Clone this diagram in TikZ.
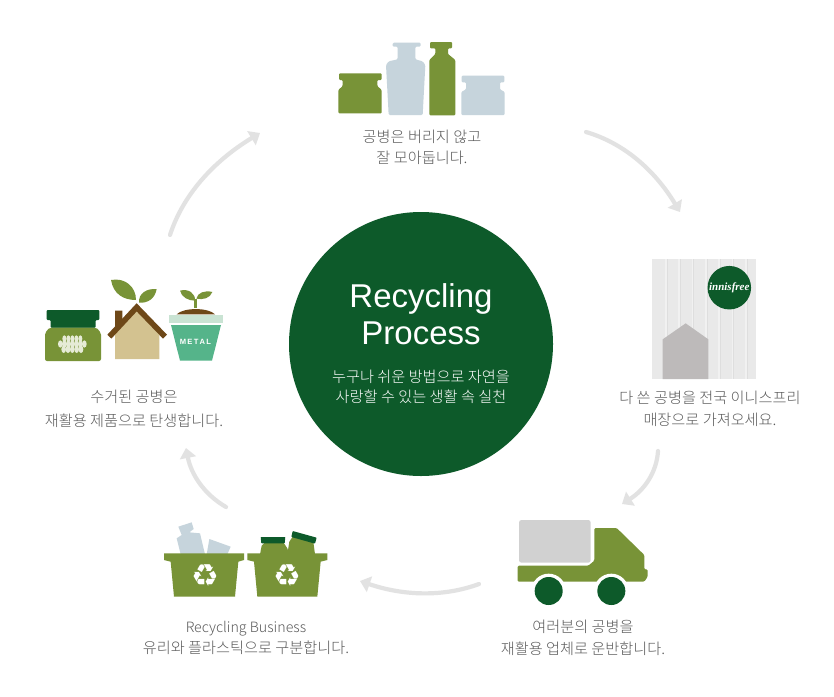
\documentclass[tikz,border=0pt]{standalone}
\usepackage{fontspec}
\usetikzlibrary{arrows.meta}
\setmainfont{Noto Sans CJK KR Light}
\newfontfamily\titlefont{Liberation Sans}
\newfontfamily\symfont{DejaVu Sans}
\newfontfamily\brandfont{Liberation Serif}
\definecolor{leaf}{HTML}{789337}
\definecolor{forest}{HTML}{0D5A2A}
\definecolor{bluegray}{HTML}{C6D4DC}
\definecolor{arrowgray}{HTML}{E2E2E2}
\definecolor{labelgray}{HTML}{5A5A5A}
\definecolor{brown1}{HTML}{6E4818}
\definecolor{sand}{HTML}{D3C290}
\definecolor{potrim}{HTML}{C9E3D3}
\definecolor{potbody}{HTML}{55B48A}
\definecolor{creamy}{HTML}{E6EBD6}
\definecolor{panelbase}{HTML}{E9E9E9}
\definecolor{panellight}{HTML}{F1F1F1}
\definecolor{paneldark}{HTML}{DEDEDE}
\definecolor{housegray}{HTML}{BDBABA}
\newcommand{\latinsize}{\fontsize{14.2}{21.5}\selectfont}
\tikzset{
  steplabel/.style={text=labelgray,align=center,inner sep=0pt,font=\fontsize{15.2}{21.5}\selectfont},
  flowarrow/.style={draw=arrowgray,line width=4.2pt,line cap=round,-{Triangle[length=10pt,width=16pt]}},
  zoomed/.style={x=0.33333pt,y=-0.33333pt},
}
\begin{document}
\begin{tikzpicture}[x=1pt,y=-1pt]
\useasboundingbox (0,0) rectangle (834,696);
\fill[white] (0,0) rectangle (834,696);

% centre
\node[circle,fill=forest,minimum size=264pt,inner sep=0pt] (hub) at (421,344) {};
\node[text=white,align=center,inner sep=0pt,font=\titlefont\fontsize{33}{37}\selectfont] (hubtitle) at (421,314) {Recycling\\Process};
\node[text=white,align=center,inner sep=0pt,font=\fontsize{15.2}{20.5}\selectfont] (hubtext) at (421,387) {누구나 쉬운 방법으로 자연을\\사랑할 수 있는 생활 속 실천};

% ---------- jars
\begin{scope}[shift={(320pt,-30pt)},zoomed]
\fill[leaf,rounded corners=1pt] (57,130)--(185,130)--(185,150)--(172,150)--(172,168)--(185,180)--(185,250)--(55,250)--(55,180)--(68,168)--(68,150)--(57,150)--cycle;
\fill[bluegray,rounded corners=1.2pt] (218,38)--(302,38)--(302,50)--(286,50)--(286,88)--(308,94)--(316,105)--(308,255)--(206,255)--(198,105)--(206,94)--(233,88)--(233,50)--(218,50)--cycle;
\fill[leaf,rounded corners=1pt] (330,36)--(396,36)--(396,55)--(384,55)--(384,72)--(406,90)--(406,256)--(328,256)--(328,90)--(346,72)--(346,55)--(330,55)--cycle;
\fill[bluegray,rounded corners=1pt] (425,137)--(553,137)--(553,157)--(540,157)--(540,178)--(554,186)--(554,255)--(424,255)--(424,186)--(438,178)--(438,157)--(425,157)--cycle;
\end{scope}
\node[steplabel] (label1) at (422,147.5) {공병은 버리지 않고\\잘 모아둡니다.};

% ---------- store panel
\begin{scope}[shift={(640pt,-250pt)},zoomed]
\fill[panelbase] (37,28) rectangle (348,387);
\foreach \sx in {75,115,155,195,235,275,315}{
  \fill[panellight] (\sx,28) rectangle (\sx+5,387);
  \fill[paneldark] (\sx+5,28) rectangle (\sx+7,387);
}
\fill[housegray] (68,268)--(137,220)--(205,268)--(205,387)--(68,387)--cycle;
\end{scope}
\node[circle,fill=forest,minimum size=43.5pt,inner sep=0pt,text=white,font=\brandfont\bfseries\itshape\fontsize{11}{11}\selectfont] (brand) at (729.3,287.7) {innisfree};
\node[steplabel] (label2) at (710,409) {다 쓴 공병을 전국 이니스프리\\매장으로 가져오세요.};

% ---------- truck
\begin{scope}[shift={(505pt,-510pt)},zoomed]
\fill[black!18,rounded corners=2.5pt] (42,30) rectangle (257,158);
\fill[leaf,rounded corners=1.2pt] (268,54)--(335,54)--(418,135)--(418,178)--(428,178)--(428,200)--(418,215)--(38,215)--(38,167)--(250,167)--(268,152)--cycle;
\fill[white] (131,243) circle (52);
\fill[white] (319,243) circle (52);
\fill[forest] (131,243) circle (42);
\fill[forest] (319,243) circle (42);
\end{scope}
\node[steplabel] (label3) at (583,638) {여러분의 공병을\\재활용 업체로 운반합니다.};

% ---------- recycling bins
\begin{scope}[shift={(150pt,-515pt)},zoomed]
\fill[bluegray] (85,35)--(125,22)--(131,42)--(118,52)--(150,55)--(165,118)--(92,118)--(80,70)--(95,60)--cycle;
\fill[bluegray] (178,72)--(242,95)--(232,118)--(170,118)--cycle;
\fill[leaf] (330,118)--(335,92)--(345,82)--(400,82)--(412,100)--(418,118)--cycle;
\fill[leaf] (412,118)--(418,80)--(430,62)--(490,80)--(495,118)--cycle;
\fill[forest,rounded corners=0.7pt] (332,66)--(406,66)--(404,85)--(334,85)--cycle;
\fill[forest,rounded corners=0.7pt] (428,48)--(500,68)--(495,86)--(424,66)--cycle;
\fill[leaf] (42,115)--(282,115)--(282,135)--(265,140)--(255,245)--(72,245)--(62,140)--(42,135)--cycle;
\fill[leaf] (292,115)--(532,115)--(532,135)--(512,140)--(502,245)--(322,245)--(312,140)--(292,135)--cycle;
\end{scope}
\node[text=white,inner sep=0pt,font=\symfont\fontsize{31}{31}\selectfont] (sym1) at (205,576) {♻};
\node[text=white,inner sep=0pt,font=\symfont\fontsize{31}{31}\selectfont] (sym2) at (287.5,576) {♻};
\node[steplabel] (label4) at (246,638) {{\latinsize Recycling Business}\\유리와 플라스틱으로 구분합니다.};

% ---------- products
\begin{scope}[shift={(30pt,-270pt)},zoomed]
\fill[leaf,rounded corners=2pt] (60,172)--(198,172)--(213,188)--(213,273)--(45,273)--(45,188)--cycle;
\fill[forest,rounded corners=1pt] (50,120)--(208,120)--(208,150)--(197,150)--(197,173)--(62,173)--(62,150)--(50,150)--cycle;
\foreach \dx in {-24,-12,0,12,24}{
  \fill[creamy] (127+\dx,206) ellipse (6 and 10);
}
\foreach \dx in {-36,-24,-12,0,12,24,36}{
  \fill[creamy] (127+\dx,222) ellipse (7 and 11);
}
\foreach \dx in {-26,-13,0,13,26}{
  \fill[creamy] (127+\dx,238) ellipse (7 and 11);
}
% house
\fill[sand] (255,175)--(320,118)--(388,175)--(388,267)--(255,267)--cycle;
\fill[brown1] (255,122)--(277,122)--(277,155)--(255,178)--cycle;
\draw[brown1,line width=5.6pt] (238,200)--(320,112)--(405,200);
% leaves
\fill[leaf] (243,30) .. controls (285,22) and (318,50) .. (318,90) .. controls (280,90) and (250,72) .. cycle;
\fill[leaf] (380,57) .. controls (350,55) and (325,70) .. (327,98) .. controls (355,100) and (375,85) .. cycle;
% pot
\fill[brown1] (440,133) .. controls (460,112) and (535,112) .. (555,133) -- cycle;
\fill[potrim] (418,135) rectangle (578,160);
\fill[potbody] (423,165)--(573,165)--(546,272)--(450,272)--cycle;
\draw[leaf,line width=2.8pt] (497,113)--(497,88);
\fill[leaf] (450,62) .. controls (475,55) and (497,70) .. (495,92) .. controls (475,92) and (455,82) .. cycle;
\fill[leaf] (547,66) .. controls (525,60) and (502,68) .. (499,86) .. controls (520,90) and (540,85) .. cycle;
\end{scope}
\node[text=white,inner sep=0pt,font=\titlefont\bfseries\fontsize{7.6}{8}\selectfont] (metal) at (195.5,342) {M\,E\,T\,A\,L};
\node[text=labelgray,align=center,inner sep=0pt,font=\fontsize{15.2}{24}\selectfont] (label5) at (134,409) {수거된 공병은\\재활용 제품으로 탄생합니다.};

% ---------- arrows
\coordinate (a1s) at (586,132); \coordinate (a1e) at (680,212);
\coordinate (a2s) at (658,451); \coordinate (a2e) at (622,504);
\coordinate (a3s) at (479,584); \coordinate (a3e) at (360,581);
\coordinate (a4s) at (226,507); \coordinate (a4e) at (186,448);
\coordinate (a5s) at (170,235); \coordinate (a5e) at (260,133);
\draw[flowarrow] (a1s) .. controls (622.7,142.7) and (654,169) .. (a1e);
\draw[flowarrow] (a2s) .. controls (656.7,472) and (644.7,489.7) .. (a2e);
\draw[flowarrow] (a3s) .. controls (443.7,597) and (404,596) .. (a3e);
\draw[flowarrow] (a4s) .. controls (204.7,494.7) and (191.3,475) .. (a4e);
\draw[flowarrow] (a5s) .. controls (182.7,195.7) and (212.7,161.7) .. (a5e);
\end{tikzpicture}
\end{document}
